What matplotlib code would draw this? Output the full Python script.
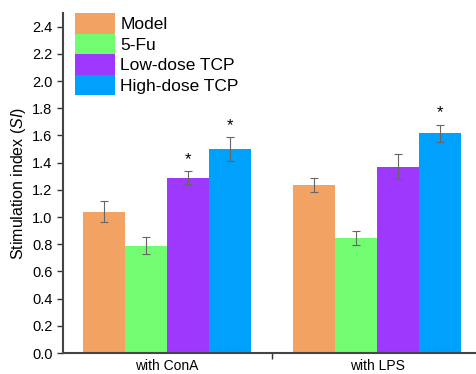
import numpy as np
import matplotlib
matplotlib.use("Agg")
import matplotlib.pyplot as plt

plt.rcParams['font.family'] = ['Liberation Sans', 'DejaVu Sans']
plt.rcParams['mathtext.fontset'] = 'custom'
plt.rcParams['mathtext.it'] = 'Liberation Sans:italic'
plt.rcParams['mathtext.rm'] = 'Liberation Sans'

# data
groups = ["with ConA", "with LPS"]
series = ["Model", "5-Fu", "Low-dose TCP", "High-dose TCP"]
means = [[1.04, 1.235],
         [0.79, 0.845],
         [1.29, 1.37],
         [1.50, 1.615]]
errs = [[0.08, 0.05],
        [0.06, 0.05],
        [0.05, 0.09],
        [0.085, 0.065]]
stars = [[False, False],
         [False, False],
         [True, False],
         [True, True]]
colors = ["#F2A262", "#72FC72", "#9D38FC", "#00A1FC"]

fig = plt.figure(figsize=(4.76, 3.74), dpi=100)
ax = fig.add_axes([0.1324, 0.0561, 0.8676, 0.9091])

x = np.arange(len(groups))
w = 0.2
for i, name in enumerate(series):
    pos = x + (i - 1.5) * w
    ax.bar(pos, means[i], w, color=colors[i], label=name, zorder=2)
    ax.errorbar(pos, means[i], yerr=errs[i], fmt='none', ecolor='#666666',
                elinewidth=0.8, capsize=3, capthick=0.8, zorder=3)
    for j in range(len(groups)):
        if stars[i][j]:
            ax.text(pos[j], means[i][j] + errs[i][j] + 0.03, "*", ha='center',
                    va='bottom', fontsize=12)

ax.set_xlim(-0.495, 1.47)
ax.set_ylim(0, 2.5)
ax.set_yticks(np.arange(0, 2.41, 0.2))
ax.set_yticklabels([f"{v:.1f}" for v in np.arange(0, 2.41, 0.2)], fontsize=10.5)
ax.set_xticks([0.5])
ax.set_xticklabels([""])
ax.set_xticks(x, minor=True)
ax.set_xticklabels(groups, minor=True, fontsize=10)
ax.tick_params(axis='x', which='minor', length=0, pad=4)
ax.tick_params(axis='both', which='major', direction='out', length=4, width=1,
               color='#333333')
ax.set_ylabel("Stimulation index ($\\mathit{SI}$)", fontsize=11.5, labelpad=3)

for s in ['top', 'right']:
    ax.spines[s].set_visible(False)
for s in ['left', 'bottom']:
    ax.spines[s].set_linewidth(1.5)
    ax.spines[s].set_color('#444444')

ax.legend(loc='upper left', bbox_to_anchor=(0.029, 1.0), frameon=False,
          fontsize=12.5, borderpad=0, borderaxespad=0, labelspacing=0,
          handleheight=1.45, handlelength=2.3, handletextpad=0.3)

fig.savefig("out.png", dpi=100)
